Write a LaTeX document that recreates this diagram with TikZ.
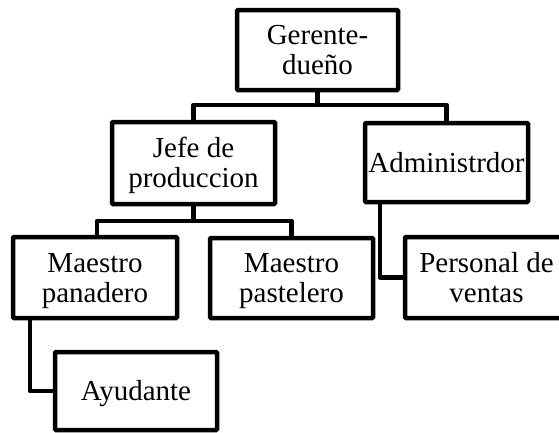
\documentclass[tikz,border=0pt]{standalone}
\usepackage{fontspec}
\setmainfont{Liberation Serif}
\newcommand\boxtext[1]{\raisebox{-3.5pt}[\height][\depth]{\begin{tabular}{@{}c@{}}#1\end{tabular}}}
\begin{document}
\begin{tikzpicture}[x=1pt,y=-1pt,
  box/.style={draw, line width=4.5pt, rounded corners=1pt,
    inner sep=0pt, font=\fontsize{29}{30}\selectfont},
  link/.style={line width=4.5pt, line join=round}]
\useasboundingbox (0,0) rectangle (559,432);
\node[box, minimum width=161pt, minimum height=80pt] (gerente) at (317.5,50) {\boxtext{Gerente-\\dueño}};
\node[box, minimum width=163pt, minimum height=82pt] (jefe) at (193.5,163) {\boxtext{Jefe de\\produccion}};
\node[box, minimum width=163pt, minimum height=79pt] (admin) at (446.5,162.5) {\boxtext{Administrdor}};
\node[box, minimum width=164pt, minimum height=81pt] (panadero) at (95,277.5) {\boxtext{Maestro\\panadero}};
\node[box, minimum width=163pt, minimum height=80pt] (pastelero) at (291.5,278) {\boxtext{Maestro\\pastelero}};
\node[box, minimum width=163pt, minimum height=81pt] (personal) at (486.5,277.5) {\boxtext{Personal de\\ventas}};
\node[box, minimum width=162pt, minimum height=78pt] (ayudante) at (136,391) {\boxtext{Ayudante}};
\coordinate (top) at (317.5,105);
\coordinate (mid) at (193.5,221);
\draw[link] (gerente.south) -- (top);
\draw[link] (top) -| (jefe.north);
\draw[link] (top) -| (admin.north);
\draw[link] (jefe.south) -- (mid);
\draw[link] (mid) -| ([xshift=-96.5pt]mid |- panadero.north);
\draw[link] (mid) -| (pastelero.north);
\draw[link] ([xshift=17pt]admin.south west) |- (personal.west);
\draw[link] ([xshift=19pt]panadero.south west) |- (ayudante.west);
\end{tikzpicture}
\end{document}
